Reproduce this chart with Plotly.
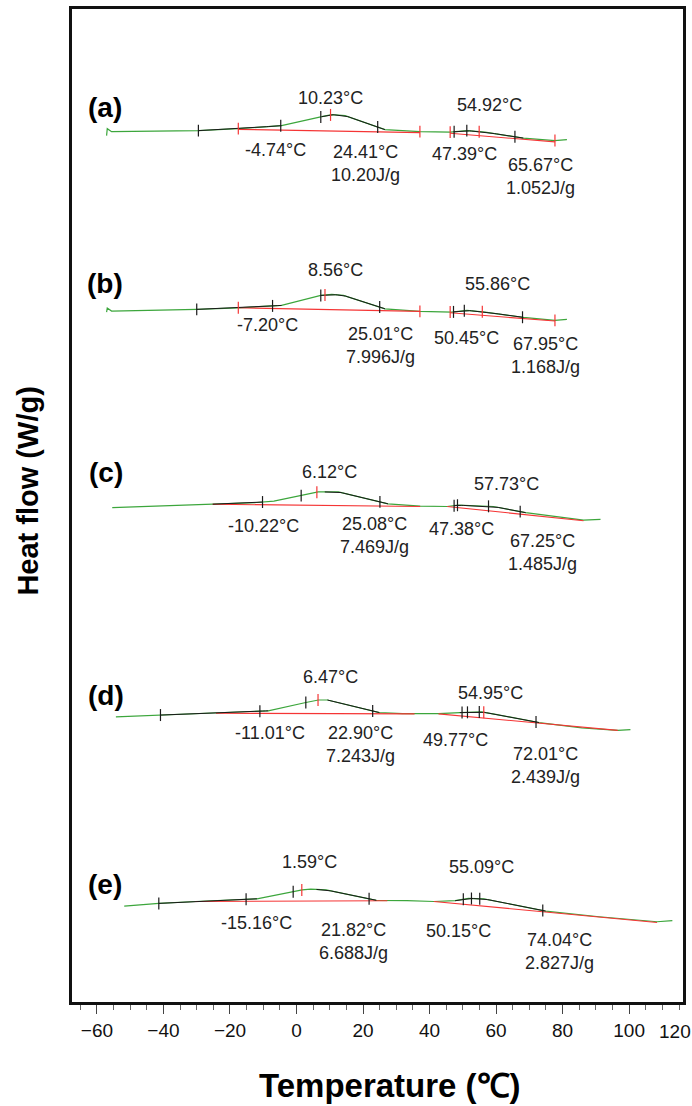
import numpy as np
import plotly.graph_objects as go

# Stacked DSC thermograms: temperature (°C) vs heat flow (W/g, each trace shifted by an offset)
panel_names = ["(a)", "(b)", "(c)", "(d)", "(e)"]
trace_offset = [-1.24, -3.02, -4.97, -7.06, -8.94]

# Heat-flow curves (relative to each trace's own level)
temp_a = [-57.1, -56.9, -55.6, -29.5, -17.5, -4.5, 7.6, 10.6, 14.6, 26.6, 37.1, 46.2, 51.2, 56.7, 68.2, 77.7, 81.3]
flow_a = [-0.03, 0.04, 0.01, 0.02, 0.04, 0.07, 0.16, 0.18, 0.17, 0.03, 0.01, 0.005, 0.02, 0.005, -0.055, -0.08, -0.07]

temp_b = [-57.1, -56.9, -55.6, -30.0, -17.5, -4.5, 7.3, 10.6, 14.1, 26.6, 37.1, 46.7, 51.2, 56.7, 68.2, 77.7, 81.3]
flow_b = [-0.02, 0.02, -0.01, 0.007, 0.023, 0.047, 0.147, 0.157, 0.147, 0.013, -0.013, -0.02, -0.003, -0.02, -0.073, -0.103, -0.093]

temp_c = [-55.4, -25.2, -11.9, -6.8, 1.4, 6.5, 12.6, 27.5, 37.2, 45.3, 48.5, 59.2, 68.9, 78.1, 86.3, 91.4]
flow_c = [-0.031, 0.003, 0.02, 0.034, 0.089, 0.126, 0.126, 0.007, -0.017, -0.02, -0.007, -0.02, -0.082, -0.122, -0.156, -0.15]

temp_d = [-54.3, -40.9, -24.2, -8.5, 2.8, 6.6, 9.3, 24.9, 31.9, 42.7, 49.1, 55.6, 59.9, 72.9, 85.8, 96.6, 100.4]
flow_d = [-0.04, -0.022, -0.004, 0.021, 0.104, 0.129, 0.129, 0.003, -0.008, -0.008, 0.003, 0.01, -0.015, -0.097, -0.151, -0.176, -0.169]

temp_e = [-51.8, -41.4, -30.4, -11.9, 1.7, 4.3, 8.9, 24.0, 33.2, 41.3, 47.7, 51.7, 56.3, 74.9, 91.0, 108.4, 113.0]
flow_e = [-0.058, -0.031, -0.012, 0.015, 0.104, 0.112, 0.104, 0.0, -0.004, -0.012, -0.004, 0.019, 0.015, -0.108, -0.165, -0.215, -0.204]

# Integration baselines (two peaks per trace, None separates them)
base_t_a = [-17.5, 37.1, None, 46.2, 77.7]
base_f_a = [0.033, 0.0, None, -0.007, -0.093]
base_t_b = [-17.5, 37.1, None, 46.2, 77.7]
base_f_b = [0.023, -0.013, None, -0.027, -0.11]
base_t_c = [-25.2, 37.2, None, 45.3, 86.3]
base_f_c = [0.003, -0.02, None, -0.02, -0.163]
base_t_d = [-24.2, 35.5, None, 42.7, 96.6]
base_f_d = [-0.004, -0.01, None, -0.01, -0.176]
base_t_e = [-30.4, 27.3, None, 41.3, 108.4]
base_f_e = [-0.012, -0.004, None, -0.012, -0.223]

# Temperature windows of the analysed (dark) parts of each curve
dark_a = [(-29.5, -4.5), (7.6, 26.6), (47.2, 68.2)]
dark_b = [(-30.0, -4.5), (7.3, 26.6), (47.2, 68.2)]
dark_c = [(-25.2, -10.22), (8.5, 27.5), (47.4, 68.9)]
dark_d = [(-40.9, -8.5), (9.3, 24.9), (49.1, 72.9)]
dark_e = [(-41.4, -11.9), (6.0, 24.0), (47.7, 74.9)]

# Cursor marks placed by the analysis software
black_marks_a = [-29.5, -4.74, 7.3, 24.41, 47.39, 51.2, 65.67]
red_marks_a = [-17.5, 10.23, 37.1, 46.2, 54.92, 77.7]
black_marks_b = [-30.0, -7.20, 7.3, 25.01, 47.2, 50.45, 67.95]
red_marks_b = [-17.5, 8.56, 37.1, 46.2, 55.86, 77.7]
black_marks_c = [-10.22, 1.4, 25.08, 47.38, 48.4, 57.73, 67.25]
red_marks_c = [6.12]
black_marks_d = [-40.9, -11.01, 2.8, 22.90, 49.77, 51.4, 54.95, 72.01]
red_marks_d = [6.47, 56.3]
black_marks_e = [-41.4, -15.16, -1.0, 21.82, 50.15, 52.6, 55.09, 74.04]
red_marks_e = [1.59]

# Result labels: onset / peak / end temperatures and enthalpies
labels_a = ["10.23°C", "54.92°C", "-4.74°C", "24.41°C<br>10.20J/g", "47.39°C", "65.67°C<br>1.052J/g"]
labels_b = ["8.56°C", "55.86°C", "-7.20°C", "25.01°C<br>7.996J/g", "50.45°C", "67.95°C<br>1.168J/g"]
labels_c = ["6.12°C", "57.73°C", "-10.22°C", "25.08°C<br>7.469J/g", "47.38°C", "67.25°C<br>1.485J/g"]
labels_d = ["6.47°C", "54.95°C", "-11.01°C", "22.90°C<br>7.243J/g", "49.77°C", "72.01°C<br>2.439J/g"]
labels_e = ["1.59°C", "55.09°C", "-15.16°C", "21.82°C<br>6.688J/g", "50.15°C", "74.04°C<br>2.827J/g"]

x_tick_values = [-60, -40, -20, 0, 20, 40, 60, 80, 100, 120]

# Label anchor points (temperature, absolute y) for each trace
label_pos = [
    [(10.1, -0.89), (57.9, -0.96), (-6.2, -1.41), (20.6, -1.55), (50.4, -1.45), (73.5, -1.68)],
    [(11.6, -2.62), (60.3, -2.76), (-8.6, -3.17), (25.4, -3.38), (51.0, -3.30), (75.0, -3.48)],
    [(9.8, -4.64), (63.0, -4.76), (-9.8, -5.19), (23.3, -5.28), (49.5, -5.22), (74.1, -5.45)],
    [(10.1, -6.70), (58.2, -6.86), (-8.0, -7.26), (19.1, -7.375), (47.7, -7.33), (75.0, -7.59)],
    [(3.8, -8.56), (55.5, -8.61), (-11.9, -9.17), (17.0, -9.35), (48.6, -9.25), (79.2, -9.455)],
]
panel_pos = [(-57.6, -0.99), (-57.6, -2.75), (-57.4, -4.65), (-57.3, -6.89), (-57.6, -8.78)]

curves = [
    (temp_a, flow_a, base_t_a, base_f_a, dark_a, black_marks_a, red_marks_a, labels_a),
    (temp_b, flow_b, base_t_b, base_f_b, dark_b, black_marks_b, red_marks_b, labels_b),
    (temp_c, flow_c, base_t_c, base_f_c, dark_c, black_marks_c, red_marks_c, labels_c),
    (temp_d, flow_d, base_t_d, base_f_d, dark_d, black_marks_d, red_marks_d, labels_d),
    (temp_e, flow_e, base_t_e, base_f_e, dark_e, black_marks_e, red_marks_e, labels_e),
]

GREEN = "#3ca63c"
RED = "#f53535"
DARK = "#1a1a1a"
MARK_HALF = 0.06
FONT = "Liberation Sans, Arial, sans-serif"
TEXT_FONT = dict(family=FONT, size=18, color="#222222")

fig = go.Figure()
annotations = []


def mark_trace(temps, t, f, off, color):
    xs, ys = [], []
    for tm in temps:
        yc = float(np.interp(tm, t, f)) + off
        xs += [tm, tm, None]
        ys += [yc - MARK_HALF, yc + MARK_HALF, None]
    return go.Scatter(x=xs, y=ys, mode="lines", line=dict(color=color, width=1.2),
                      hoverinfo="skip")


for i, (t, f, bt, bf, dark, bmarks, rmarks, texts) in enumerate(curves):
    off = trace_offset[i]
    # full heat-flow curve
    fig.add_trace(go.Scatter(x=t, y=[v + off for v in f], mode="lines",
                             line=dict(color=GREEN, width=1.2), name=panel_names[i]))
    # integration baselines
    fig.add_trace(go.Scatter(x=bt, y=[None if v is None else v + off for v in bf], mode="lines",
                             line=dict(color=RED, width=1.1), hoverinfo="skip"))
    # analysed parts drawn dark
    for lo, hi in dark:
        ts = np.linspace(lo, hi, 40)
        fig.add_trace(go.Scatter(x=ts, y=np.interp(ts, t, f) + off, mode="lines",
                                 line=dict(color=DARK, width=1.0), hoverinfo="skip"))
    fig.add_trace(mark_trace(bmarks, t, f, off, DARK))
    fig.add_trace(mark_trace(rmarks, t, f, off, RED))

    for txt, (lx, ly) in zip(texts, label_pos[i]):
        annotations.append(dict(x=lx, y=ly, xref="x", yref="y", text=txt, showarrow=False,
                                font=TEXT_FONT, align="center", xanchor="center", yanchor="middle"))
    px, py = panel_pos[i]
    annotations.append(dict(x=px, y=py, xref="x", yref="y", text="<b>" + panel_names[i] + "</b>",
                            showarrow=False, xanchor="center", yanchor="middle",
                            font=dict(family=FONT, size=28, color="#000")))

# last tick label sits at the right edge of the frame
annotations.append(dict(x=1, y=0, xref="paper", yref="paper", text=str(x_tick_values[-1]),
                        showarrow=False, xanchor="center", yanchor="top", xshift=-8, yshift=-17,
                        font=dict(family=FONT, size=19, color="#111")))

# axis titles
annotations.append(dict(x=0.5, y=0, xref="paper", yref="paper", text="<b>Temperature (℃)</b>",
                        showarrow=False, xanchor="center", yanchor="middle", xshift=12, yshift=-83,
                        font=dict(family=FONT, size=33, color="#000")))
annotations.append(dict(x=0, y=0.514, xref="paper", yref="paper", text="<b>Heat flow (W/g)</b>",
                        showarrow=False, xanchor="center", yanchor="middle", xshift=-44,
                        textangle=-90, font=dict(family=FONT, size=29, color="#000")))

fig.update_layout(
    width=692, height=1106,
    margin=dict(l=72, r=9, t=6, b=104),
    paper_bgcolor="white", plot_bgcolor="white",
    showlegend=False,
    annotations=annotations,
    xaxis=dict(
        range=[-67.5, 116.2],
        tickvals=x_tick_values[:-1],
        ticks="outside", ticklen=9, tickwidth=1, tickcolor="#444",
        showline=True, linewidth=3, linecolor="#111", mirror=True,
        showgrid=False, zeroline=False,
        tickfont=dict(family=FONT, size=19, color="#111"),
        minor=dict(dtick=5, tick0=0, ticks="outside", ticklen=5, tickwidth=1, tickcolor="#666", showgrid=False),
    ),
    yaxis=dict(
        range=[-9.96, 0],
        showline=True, linewidth=3, linecolor="#111", mirror=True,
        showticklabels=False, ticks="", showgrid=False, zeroline=False,
    ),
)

fig.write_html("out.html")
